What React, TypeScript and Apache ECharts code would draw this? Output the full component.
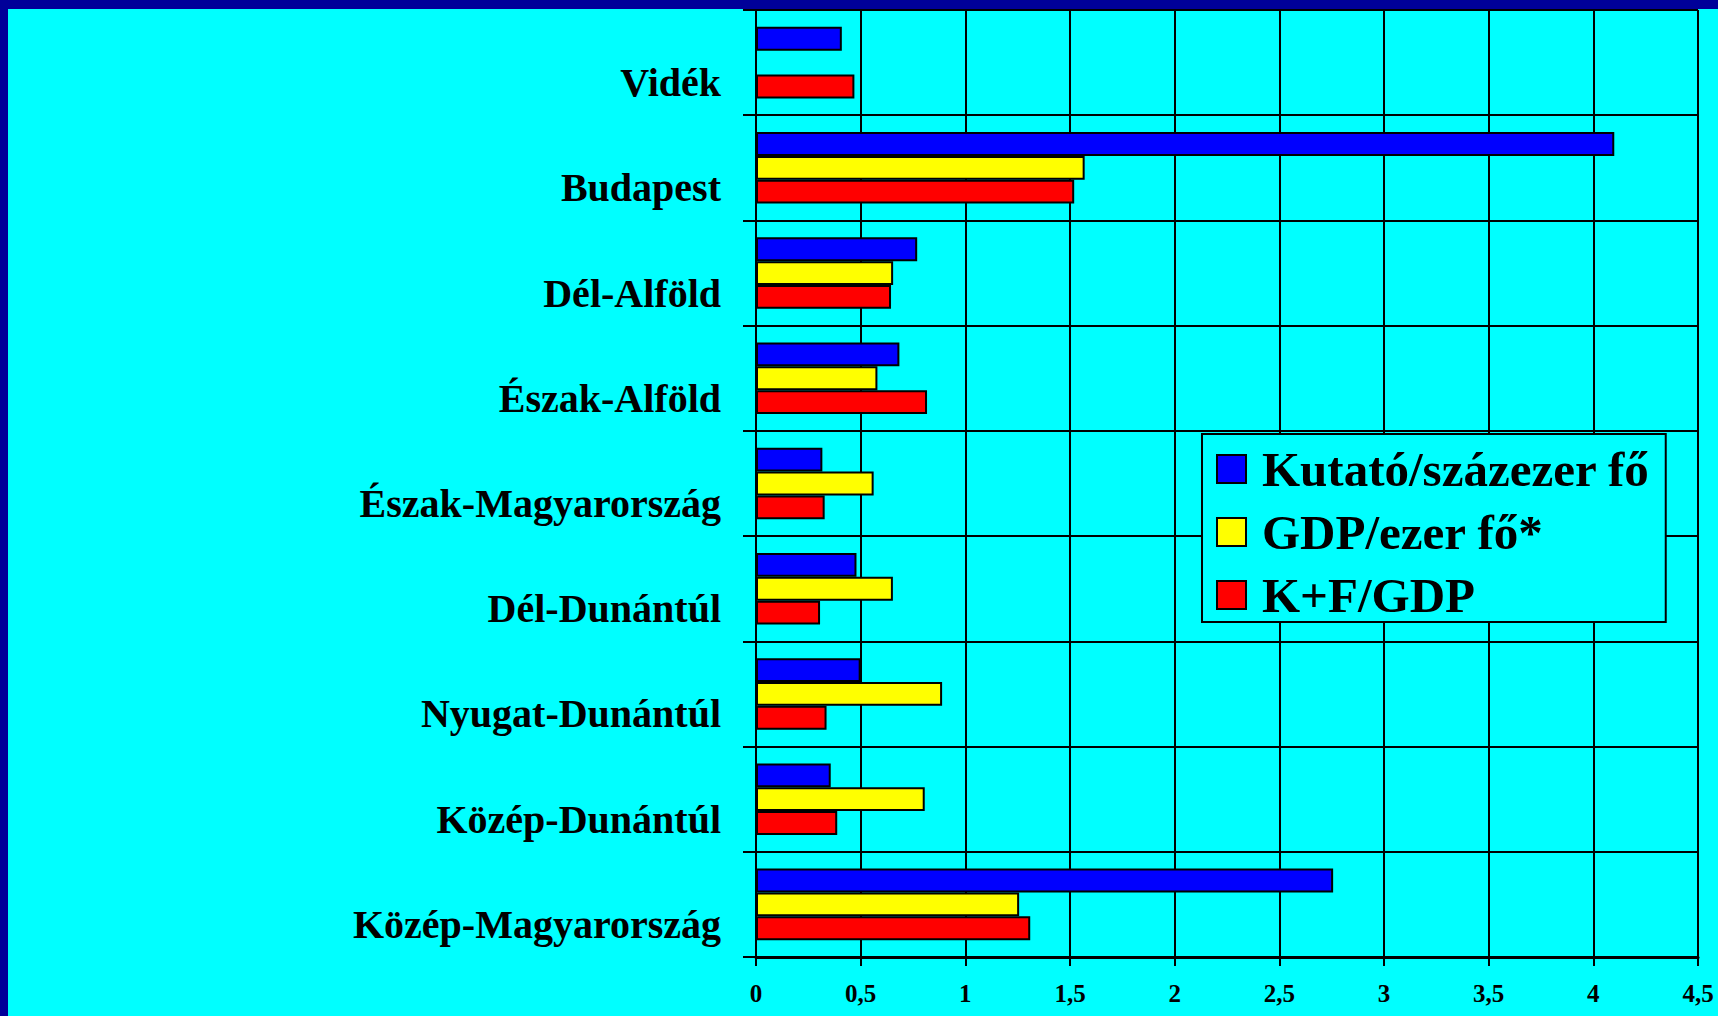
import React, { useEffect, useRef } from 'react';
import * as echarts from 'echarts';

// Categories listed top to bottom as in the picture
const categories = [
  'Vidék',
  'Budapest',
  'Dél-Alföld',
  'Észak-Alföld',
  'Észak-Magyarország',
  'Dél-Dunántúl',
  'Nyugat-Dunántúl',
  'Közép-Dunántúl',
  'Közép-Magyarország',
];

const seriesNames = ['Kutató/százezer fő', 'GDP/ezer fő*', 'K+F/GDP'];

const kutato = [0.41, 4.1, 0.77, 0.685, 0.317, 0.48, 0.5, 0.357, 2.757];
const gdp = [null, 1.57, 0.655, 0.58, 0.562, 0.654, 0.889, 0.806, 1.257];
const kf = [0.47, 1.52, 0.645, 0.817, 0.328, 0.306, 0.337, 0.388, 1.31];

const seriesColors = ['#0000FF', '#FFFF00', '#FF0000'];

const FONT = "'Liberation Serif', 'Times New Roman', serif";

export default function App() {
  const ref = useRef<HTMLDivElement>(null);

  useEffect(() => {
    document.body.style.margin = '0';
    const chart = echarts.init(ref.current!, null, { renderer: 'svg' });
    const values = [kutato, gdp, kf];
    chart.setOption({
      animation: false,
      backgroundColor: '#00FFFF',
      graphic: [
        { type: 'rect', shape: { x: 0, y: 0, width: 1718, height: 9 }, style: { fill: '#000099' } },
        { type: 'rect', shape: { x: 0, y: 0, width: 8, height: 1016 }, style: { fill: '#000099' } },
      ],
      grid: { left: 756, right: 20, top: 10, bottom: 59, containLabel: false },
      legend: {
        orient: 'vertical',
        left: 1202,
        top: 434,
        data: seriesNames,
        icon: 'rect',
        itemWidth: 29,
        itemHeight: 28,
        itemGap: 13,
        padding: [10, 16, 2, 14],
        borderColor: '#000',
        borderWidth: 2,
        backgroundColor: '#00FFFF',
        textStyle: {
          fontFamily: FONT,
          fontWeight: 'bold',
          fontSize: 49,
          lineHeight: 50,
          color: '#000',
          padding: [0, 0, 0, 11],
        },
      },
      xAxis: {
        type: 'value',
        min: 0,
        max: 4.5,
        interval: 0.5,
        axisLine: { show: true, lineStyle: { color: '#000', width: 3 } },
        axisTick: { show: true, length: 9, lineStyle: { color: '#000', width: 2 } },
        splitLine: { show: true, lineStyle: { color: '#000', width: 2 } },
        axisLabel: {
          margin: 24,
          fontFamily: FONT,
          fontWeight: 'bold',
          fontSize: 25,
          color: '#000',
          formatter: (v: number) => String(v).replace('.', ','),
        },
      },
      yAxis: {
        type: 'category',
        inverse: true,
        data: categories,
        axisLine: { show: true, lineStyle: { color: '#000', width: 2 } },
        axisTick: { show: true, length: 13, lineStyle: { color: '#000', width: 2 } },
        splitLine: { show: true, lineStyle: { color: '#000', width: 2 } },
        axisLabel: {
          margin: 35,
          fontFamily: FONT,
          fontWeight: 'bold',
          fontSize: 40,
          lineHeight: 40,
          verticalAlign: 'top',
          color: '#000',
        },
      },
      series: seriesNames.map((name, i) => ({
        name,
        type: 'bar',
        data: values[i],
        barGap: '0%',
        barCategoryGap: '32%',
        itemStyle: { color: seriesColors[i], borderColor: '#000', borderWidth: 2 },
      })),
    });
    return () => chart.dispose();
  }, []);

  return <div ref={ref} style={{ width: 1718, height: 1016 }} />;
}
